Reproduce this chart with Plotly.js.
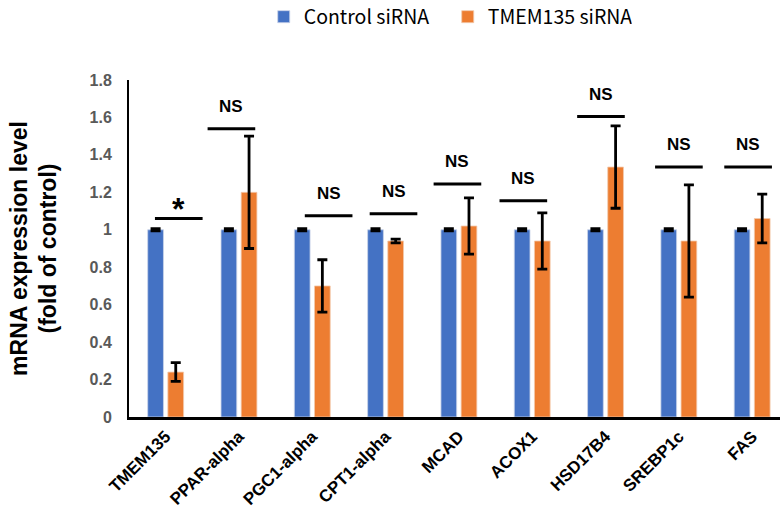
<!DOCTYPE html>
<html>
<head>
<meta charset="utf-8">
<script src="https://cdn.plot.ly/plotly-3.0.1.min.js"></script>
<style>html,body{margin:0;padding:0;background:#fff;}#chart{width:780px;height:515px;}</style>
</head>
<body>
<div id="chart"></div>
<script>
const categories = ["TMEM135","PPAR-alpha","PGC1-alpha","CPT1-alpha","MCAD","ACOX1","HSD17B4","SREBP1c","FAS"];
const controlValues = [1,1,1,1,1,1,1,1,1];
const controlErrors = [0.005,0.005,0.005,0.005,0.005,0.005,0.005,0.005,0.005];
const sirnaValues = [0.24,1.20,0.70,0.94,1.02,0.94,1.335,0.94,1.06];
const sirnaErrors = [0.05,0.30,0.14,0.01,0.15,0.15,0.22,0.30,0.13];
const sigLabels = ["*","NS","NS","NS","NS","NS","NS","NS","NS"];
const sigHeights = [1.06,1.54,1.075,1.085,1.245,1.155,1.605,1.335,1.335];
const sigStartOffsets = [-0.146,-0.428,-0.102,-0.217,-0.345,-0.446,-0.387,-0.324,-0.38];
const sigLength = 0.65;

const traces = [
  {type:'bar', name:'Control siRNA', x:categories, y:controlValues,
   marker:{color:'#4472C4', line:{color:'#c9d3e8', width:0.8}},
   error_y:{type:'data', array:controlErrors, visible:true, color:'#000', thickness:3, width:5}},
  {type:'bar', name:'TMEM135 siRNA', x:categories, y:sirnaValues,
   marker:{color:'#ED7D31', line:{color:'#f2c9ad', width:0.8}},
   error_y:{type:'data', array:sirnaErrors, visible:true, color:'#000', thickness:2.8, width:5}}
];

const shapes = [];
const annotations = [];
categories.forEach((c,i)=>{
  const x0 = i + sigStartOffsets[i];
  const x1 = x0 + sigLength;
  shapes.push({type:'line', xref:'x', yref:'y', x0:x0, x1:x1, y0:sigHeights[i], y1:sigHeights[i],
    line:{color:'#000', width:3}});
  const star = sigLabels[i] === '*';
  annotations.push({xref:'x', yref:'y', x:(x0+x1)/2, y:sigHeights[i], text:sigLabels[i],
    showarrow:false, yanchor:'bottom', yshift: star ? -10 : 11,
    font:{family:'Arial, Liberation Sans, sans-serif', size: star ? 32 : 17, color:'#000', weight:'bold'}});
});

const layout = {
  width:780, height:515,
  margin:{l:129, r:0, t:80, b:98, pad:0},
  paper_bgcolor:'#fff', plot_bgcolor:'#fff',
  barmode:'group', bargap:0.45, bargroupgap:0.22,
  showlegend:true,
  legend:{orientation:'h', xref:'container', yref:'container', x:0.574, xanchor:'center', y:0.967, yanchor:'middle',
    font:{family:'Noto Sans CJK KR, Noto Sans, sans-serif', size:19.5, color:'#000'}, entrywidth:139, itemwidth:30, traceorder:'normal'},
  xaxis:{type:'category', range:[-0.5,8.38], showline:true, linecolor:'#000', linewidth:3,
    ticks:'', tickangle:-45, showgrid:false, zeroline:false,
    tickfont:{family:'Arial, Liberation Sans, sans-serif', size:17, color:'#000', weight:'bold'}},
  yaxis:{range:[0,1.8], tickvals:[0,0.2,0.4,0.6,0.8,1,1.2,1.4,1.6,1.8], ticktext:['0','0.2','0.4','0.6','0.8','1','1.2','1.4','1.6','1.8'],
    showline:true, linecolor:'#000', linewidth:2, ticks:'', showgrid:false, zeroline:false, ticklabelstandoff:12,
    tickfont:{family:'Arial, Liberation Sans, sans-serif', size:16, color:'#595959', weight:'bold'},
    title:{text:'mRNA expression level<br>(fold of control)', standoff:26,
      font:{family:'Arial, Liberation Sans, sans-serif', size:23, color:'#000', weight:'bold'}}},
  shapes:shapes, annotations:annotations
};

Plotly.newPlot('chart', traces, layout, {displayModeBar:false, staticPlot:true});
</script>
</body>
</html>
